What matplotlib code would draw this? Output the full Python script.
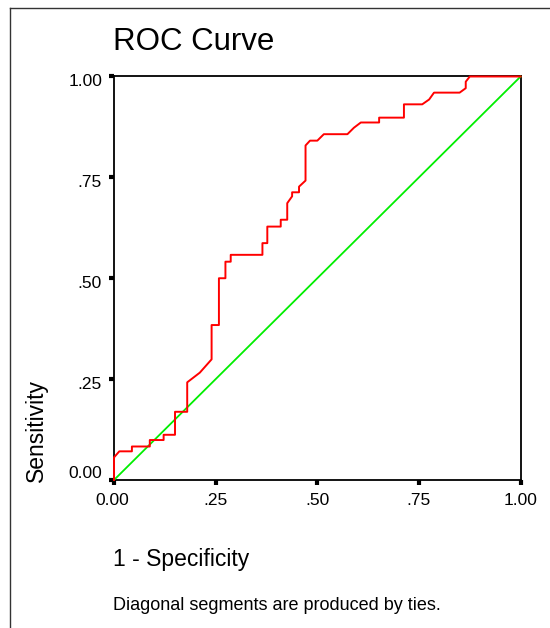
import matplotlib.pyplot as plt
from matplotlib.lines import Line2D
from matplotlib.transforms import ScaledTranslation

plt.rcParams['font.family'] = ['Liberation Sans', 'DejaVu Sans']

# ROC curve points (1 - specificity, sensitivity)
fpr = [0.000, 0.000, 0.013, 0.044, 0.044, 0.088, 0.088, 0.122, 0.122, 0.150,
       0.150, 0.180, 0.180, 0.211, 0.240, 0.240, 0.258, 0.258, 0.274, 0.274,
       0.287, 0.287, 0.365, 0.365, 0.377, 0.377, 0.410, 0.410, 0.426, 0.426,
       0.438, 0.438, 0.455, 0.455, 0.471, 0.471, 0.482, 0.500, 0.516, 0.574,
       0.590, 0.607, 0.652, 0.652, 0.713, 0.713, 0.758, 0.775, 0.787, 0.850,
       0.865, 0.865, 0.875, 1.000]
tpr = [0.000, 0.056, 0.071, 0.071, 0.083, 0.083, 0.099, 0.099, 0.112, 0.112,
       0.169, 0.169, 0.242, 0.266, 0.299, 0.384, 0.384, 0.500, 0.500, 0.541,
       0.541, 0.558, 0.558, 0.587, 0.587, 0.628, 0.628, 0.645, 0.645, 0.686,
       0.703, 0.713, 0.713, 0.727, 0.742, 0.829, 0.841, 0.841, 0.857, 0.857,
       0.873, 0.886, 0.886, 0.898, 0.898, 0.931, 0.931, 0.943, 0.960, 0.960,
       0.971, 0.987, 1.000, 1.000]

ref_line = [0.0, 1.0]
ticks = [0.0, 0.25, 0.5, 0.75, 1.0]
tick_labels = ["0.00", ".25", ".50", ".75", "1.00"]

fig = plt.figure(figsize=(5.5, 6.28), dpi=100)
ax = fig.add_axes([0.2073, 0.2357, 0.7393, 0.6425])

ax.plot(ref_line, ref_line, color='#00ee00', lw=1.3, zorder=3, clip_on=False)
ax.plot(fpr, tpr, color='#ff0000', lw=1.4, zorder=4, clip_on=False)

ax.set_xlim(0, 1)
ax.set_ylim(0, 1)
ax.set_xticks(ticks)
ax.set_xticklabels(tick_labels)
ax.set_yticks(ticks)
ax.set_yticklabels(tick_labels)
ax.tick_params(direction='out', length=3.6, width=3, labelsize=12.5)
ax.tick_params(axis='x', pad=5.5)
ax.tick_params(axis='y', pad=5)
for s in ax.spines.values():
    s.set_linewidth(1.3)

# SPSS-style label placement: y labels sit a bit below their ticks,
# the bottom one is lifted clear of the x axis
px = 1 / 100
for i, lab in enumerate(ax.get_yticklabels()):
    dy = 8 * px if i == 0 else -3.5 * px
    lab.set_transform(lab.get_transform() + ScaledTranslation(0, dy, fig.dpi_scale_trans))
xlab0 = ax.get_xticklabels()[0]
xlab0.set_transform(xlab0.get_transform() + ScaledTranslation(-2 * px, 0, fig.dpi_scale_trans))

fig.text(0.206, 0.920, "ROC Curve", fontsize=22.5, ha='left', va='baseline')
fig.text(0.205, 0.0987, "1 - Specificity", fontsize=16.5, ha='left', va='baseline')
fig.text(0.205, 0.0287, "Diagonal segments are produced by ties.",
         fontsize=13, ha='left', va='baseline')
fig.text(0.067, 0.2325, "Sensitivity", fontsize=16.5, rotation=90,
         ha='center', va='bottom')

# outer frame (cut off on the right and bottom)
fig.add_artist(Line2D([0.019, 0.019], [0.0, 0.988], color='#333333', lw=1,
                      transform=fig.transFigure))
fig.add_artist(Line2D([0.019, 1.0], [0.988, 0.988], color='#333333', lw=1,
                      transform=fig.transFigure))

fig.savefig("out.png", dpi=100)
